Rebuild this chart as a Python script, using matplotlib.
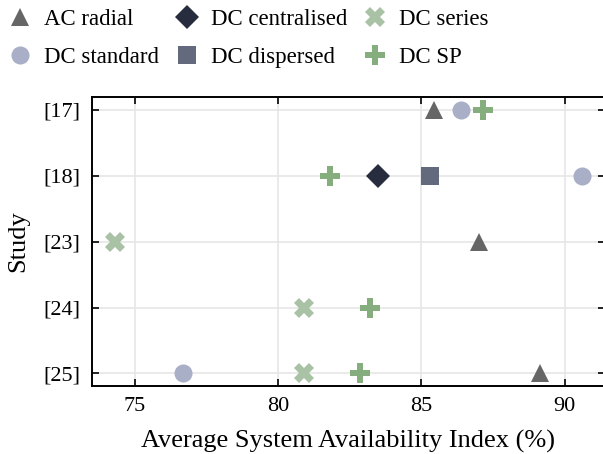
import matplotlib.pyplot as plt
import numpy as np

plt.rcParams['font.family'] = ['Liberation Serif', 'DejaVu Serif']

studies = ['[17]', '[18]', '[23]', '[24]', '[25]']

ac_radial_study = ['[17]', '[23]', '[25]']
ac_radial_val = [85.45, 87.0, 89.15]
dc_standard_study = ['[17]', '[18]', '[25]']
dc_standard_val = [86.4, 90.6, 76.7]
dc_central_study = ['[18]']
dc_central_val = [83.5]
dc_dispersed_study = ['[18]']
dc_dispersed_val = [85.3]
dc_series_study = ['[23]', '[24]', '[25]']
dc_series_val = [74.3, 80.9, 80.9]
dc_sp_study = ['[17]', '[18]', '[24]', '[25]']
dc_sp_val = [87.15, 81.8, 83.2, 82.85]

series = [
    ('AC radial', ac_radial_study, ac_radial_val, '^', '#666666'),
    ('DC standard', dc_standard_study, dc_standard_val, 'o', '#a9afc6'),
    ('DC centralised', dc_central_study, dc_central_val, 'D', '#272d3f'),
    ('DC dispersed', dc_dispersed_study, dc_dispersed_val, 's', '#646a7e'),
    ('DC series', dc_series_study, dc_series_val, 'X', '#a9c1a5'),
    ('DC SP', dc_sp_study, dc_sp_val, 'P', '#86ad7e'),
]
sizes = {'^': 13, 'o': 13, 'D': 12.5, 's': 13, 'X': 14, 'P': 14}

fig = plt.figure(figsize=(6.03, 4.54), dpi=100)
ax = fig.add_axes([0.152, 0.150, 0.851, 0.637])

pos = {s: i for i, s in enumerate(studies)}
for name, st, vals, mk, col in series:
    y = [pos[s] for s in st]
    ax.plot(vals, y, linestyle='none', marker=mk, color=col,
            markersize=sizes[mk], markeredgewidth=0, label=name, zorder=3)

ax.set_yticks(range(len(studies)))
ax.set_yticklabels(studies)
ax.set_ylim(4.19, -0.2)
ax.set_xlim(73.5, 91.4)
ax.set_xticks([75, 80, 85, 90])
ax.grid(True, color='#e6e6e6', linewidth=1.2, zorder=0)
ax.set_axisbelow(True)
ax.tick_params(direction='in', top=True, right=True, labelsize=16, length=5,
               width=1.2, pad=8)
ax.set_xlabel('Average System Availability Index (%)', fontsize=19, labelpad=10)
ax.set_ylabel('Study', fontsize=19, labelpad=10)
for sp in ax.spines.values():
    sp.set_linewidth(1.4)

ax.legend(loc='upper left', bbox_to_anchor=(0.005, 0.98), bbox_transform=fig.transFigure,
          ncol=3, frameon=False, fontsize=16.5, handletextpad=0.3, columnspacing=0.45,
          borderaxespad=0.0, borderpad=0.0, labelspacing=0.73, handlelength=1.5)

fig.savefig('out.png', dpi=100)
